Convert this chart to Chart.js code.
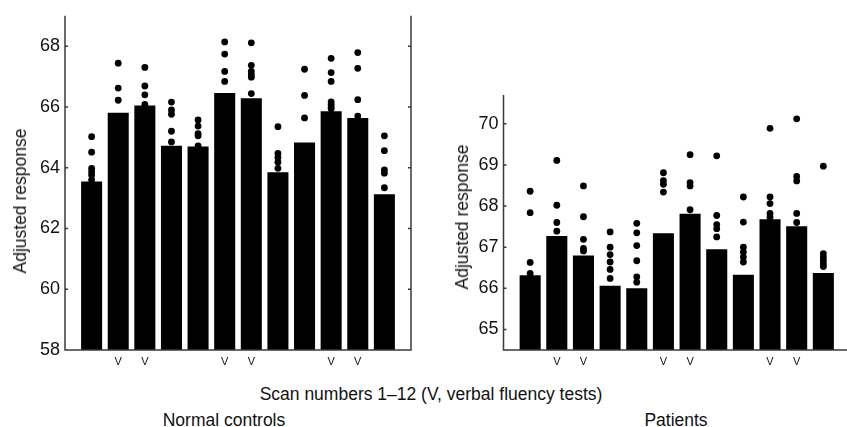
<!DOCTYPE html>
<html>
<head>
<meta charset="utf-8">
<script src="https://cdn.jsdelivr.net/npm/chart.js@4/dist/chart.umd.min.js"></script>
<style>
  body { margin: 0; width: 847px; height: 427px; overflow: hidden; background: #fff; position: relative; font-family: "Liberation Sans", Arial, sans-serif; color: #111; }
  canvas { position: absolute; top: 0; }
  .txt { position: absolute; font-size: 17.5px; line-height: 20px; white-space: nowrap; transform: translateX(-50%); }
  .ytitle { position: absolute; font-size: 17.5px; line-height: 20px; white-space: nowrap; transform: translate(-50%, -50%) rotate(-90deg); }
</style>
</head>
<body>
<canvas id="controls" width="430" height="380" style="left:0"></canvas>
<canvas id="patients" width="440" height="380" style="left:420px"></canvas>
<div class="ytitle" style="left:20px; top:201px">Adjusted response</div>
<div class="ytitle" style="left:462px; top:217px">Adjusted response</div>
<div class="txt" style="left:431px; top:384px">Scan numbers 1–12 (V, verbal fluency tests)</div>
<div class="txt" style="left:224px; top:410px">Normal controls</div>
<div class="txt" style="left:676px; top:410px">Patients</div>
<script>
let scanNumbers = [1, 2, 3, 4, 5, 6, 7, 8, 9, 10, 11, 12];
let verbalScans = [2, 3, 6, 7, 10, 11];

let controlMeans = [63.55, 65.81, 66.05, 64.72, 64.70, 66.46, 66.29, 63.85, 64.83, 65.86, 65.64, 63.13];
let controlPoints = [
  [65.02, 64.51, 63.98, 63.87, 63.76, 63.6],
  [67.44, 66.62, 66.22],
  [67.30, 66.69, 66.40, 66.08],
  [66.16, 65.90, 65.76, 65.20, 64.85],
  [65.57, 65.37, 65.12, 65.05, 64.72],
  [68.14, 67.74, 67.17, 66.84],
  [68.11, 67.37, 67.17, 67.06, 66.98, 66.44],
  [65.35, 64.47, 64.34, 64.18, 63.98],
  [67.24, 66.38, 65.64],
  [67.6, 67.13, 66.84, 66.17, 66.08, 66.0, 65.94],
  [67.79, 67.27, 66.24, 65.70],
  [65.05, 64.56, 63.93, 63.82, 63.34]
];
let controlTicks = [58, 60, 62, 64, 66, 68];

let patientMeans = [66.32, 67.27, 66.80, 66.06, 66.0, 67.34, 67.81, 66.95, 66.33, 67.68, 67.51, 66.37];
let patientPoints = [
  [68.36, 67.84, 66.63, 66.36],
  [69.11, 68.02, 67.6, 67.39],
  [68.49, 67.74, 67.19, 66.97, 66.91],
  [67.37, 67.0, 66.82, 66.64, 66.46, 66.24],
  [67.58, 67.35, 67.04, 66.67, 66.28, 66.15],
  [68.81, 68.62, 68.53, 68.34],
  [69.25, 68.57, 68.49, 67.91],
  [69.22, 67.77, 67.55, 67.45, 67.25],
  [68.22, 67.61, 67.0, 66.88, 66.76, 66.64],
  [69.89, 68.22, 68.06, 67.82, 67.73],
  [70.12, 68.72, 68.61, 67.82, 67.6],
  [68.97, 66.84, 66.76, 66.68, 66.6, 66.53]
];
let patientTicks = [65, 66, 67, 68, 69, 70];

// box round the plot: left, bottom and right lines with small inward ticks
var framePlugin = {
  id: 'frame',
  afterDraw: function (chart) {
    var a = chart.chartArea;
    var ctx = chart.ctx;
    var y = chart.scales.y;
    ctx.save();
    ctx.strokeStyle = '#3a3a3a';
    ctx.lineWidth = 1.5;
    ctx.beginPath();
    ctx.moveTo(a.left, a.top);
    ctx.lineTo(a.left, a.bottom);
    ctx.lineTo(a.right, a.bottom);
    ctx.lineTo(a.right, a.top);
    y.ticks.forEach(function (t) {
      var py = y.getPixelForValue(t.value);
      ctx.moveTo(a.left, py);
      ctx.lineTo(a.left + 3, py);
      ctx.moveTo(a.right, py);
      ctx.lineTo(a.right - 3, py);
    });
    ctx.stroke();
    ctx.restore();
  }
};

function makePanel(id, means, points, yMin, yMax, yTicks, padTop, padRight, yWidth) {
  let bars = scanNumbers.map((n, i) => ({ x: n, y: means[i] }));
  let dots = [];
  scanNumbers.forEach((n, i) => {
    points[i].forEach(v => dots.push({ x: n, y: v }));
  });

  let ctx = document.getElementById(id).getContext('2d');
  return new Chart(ctx, {
    type: 'bar',
    data: {
      datasets: [
        {
          type: 'scatter',
          data: dots,
          backgroundColor: '#000',
          borderColor: '#000',
          borderWidth: 0,
          pointRadius: 3.4,
          order: 0
        },
        {
          data: bars,
          backgroundColor: '#000',
          borderWidth: 0,
          barPercentage: 0.79,
          categoryPercentage: 1,
          order: 1
        }
      ]
    },
    options: {
      responsive: false,
      animation: false,
      devicePixelRatio: 1,
      layout: { padding: { top: padTop, right: padRight, left: 0, bottom: 0 } },
      plugins: { legend: { display: false }, tooltip: { enabled: false } },
      scales: {
        x: {
          type: 'linear',
          min: 0,
          max: 13,
          offset: false,
          grid: { display: false, drawTicks: false },
          border: { display: false },
          ticks: {
            stepSize: 1,
            autoSkip: false,
            maxRotation: 0,
            padding: 5,
            color: '#111',
            font: { family: '"Liberation Sans", Arial, sans-serif', size: 11 },
            callback: v => verbalScans.includes(v) ? 'V' : ''
          },
          afterFit: s => { s.height = 30; }
        },
        y: {
          type: 'linear',
          min: yMin,
          max: yMax,
          grid: { display: false, drawTicks: false },
          border: { display: false },
          ticks: {
            padding: 5,
            color: '#111',
            font: { family: '"Liberation Sans", Arial, sans-serif', size: 18 }
          },
          afterBuildTicks: s => { s.ticks = yTicks.map(v => ({ value: v })); },
          afterFit: s => { s.width = yWidth; }
        }
      }
    },
    plugins: [framePlugin]
  });
}

makePanel('controls', controlMeans, controlPoints, 58, 69, controlTicks, 13, 19, 65);
makePanel('patients', patientMeans, patientPoints, 64.5, 70.7, patientTicks, 95, 10, 83.5);
</script>
</body>
</html>
